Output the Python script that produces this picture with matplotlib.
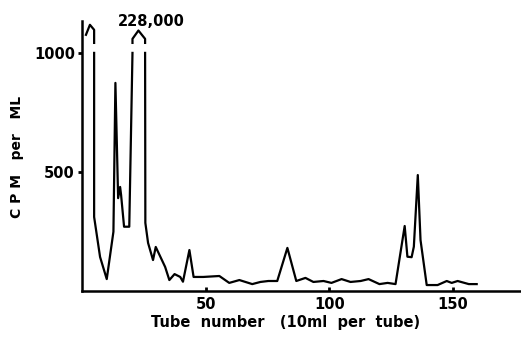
import numpy as np
import matplotlib.pyplot as plt

# tube number and counts (nan = break in the curve at the off-scale peaks)
tube = [1.6, 3.2, 4.9, 4.9, np.nan,
        4.9, 4.9, 7.3, 10.0, 12.7, 13.5, 14.6, 15.4, 15.8, 17.0, 19.1, 20.4, np.nan,
        20.4, 20.4, 22.8, 25.5, 25.5, np.nan,
        25.5, 25.6, 26.7, 28.7, 29.8, 33.6, 35.3, 37.4, 39.7, 40.8, 43.4, 45.1,
        49.0, 55.5, 59.5, 63.6, 68.8, 72.1, 75.3, 78.9, 83.0, 86.6, 90.3, 93.5,
        97.6, 100.8, 104.9, 108.5, 112.6, 115.8, 120.2, 123.5, 126.7, 130.4,
        131.5, 133.2, 134.1, 135.7, 136.8, 139.3, 143.7, 147.4, 149.4, 151.8,
        156.3, 159.5]
cpm = [1076, 1118, 1097, 1042, np.nan,
       1000, 311, 143, 50, 249, 874, 390, 437, 403, 270, 270, 1000, np.nan,
       1042, 1059, 1094, 1059, 1042, np.nan,
       1000, 286, 202, 130, 185, 101, 46, 71, 59, 39, 172, 59,
       59, 63, 34, 46, 29, 38, 42, 42, 181, 42, 55, 38,
       42, 34, 50, 38, 42, 50, 29, 34, 29, 273,
       144, 142, 186, 487, 214, 25, 25, 42, 34, 42,
       29, 29]

peak_label = "228,000"
xticks = [50, 100, 150]
yticks = [500, 1000]

fig = plt.figure(figsize=(5.21, 3.39), dpi=100)
ax = fig.add_axes([82 / 521, 48 / 339, 438 / 521, 270 / 339])

ax.plot(tube, cpm, color='black', lw=1.6, solid_joinstyle='round')
ax.text(27.9, 1130, peak_label, ha='center', va='center', fontsize=10.5,
        fontweight='bold', clip_on=False)

ax.set_xlim(0, 177)
ax.set_ylim(0, 1134)
ax.set_xticks(xticks)
ax.set_yticks(yticks)
ax.set_yticklabels(['500', '1000'])
ax.tick_params(axis='x', direction='in', length=3, width=2, pad=4, labelsize=10.5)
ax.tick_params(axis='y', direction='out', length=3, width=2, pad=2, labelsize=10.5)
for lab in ax.get_xticklabels() + ax.get_yticklabels():
    lab.set_fontweight('bold')

for s in ['top', 'right']:
    ax.spines[s].set_visible(False)
for s in ['left', 'bottom']:
    ax.spines[s].set_linewidth(1.8)

fig.text(286 / 521, 1 - 322 / 339, "Tube  number   (10ml  per  tube)",
         ha='center', va='center', fontsize=10.5, fontweight='bold')
fig.text(17 / 521, 1 - 157 / 339, "C P M   per   ML", rotation=90,
         ha='center', va='center', fontsize=10, fontweight='bold')

plt.savefig("out.png", dpi=100)
